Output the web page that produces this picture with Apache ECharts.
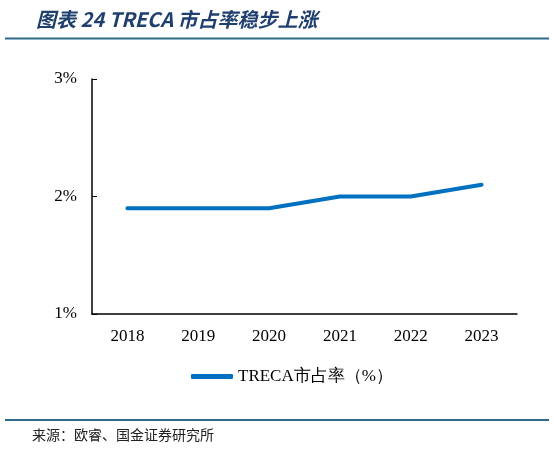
<!DOCTYPE html>
<html>
<head>
<meta charset="utf-8">
<script src="https://cdn.jsdelivr.net/npm/echarts@6/dist/echarts.min.js"></script>
<style>
  html, body { margin: 0; padding: 0; background: #fff; }
  #chart { width: 554px; height: 451px; }
</style>
</head>
<body>
<div id="chart"></div>
<script>
var years = ['2018', '2019', '2020', '2021', '2022', '2023'];
var shareValues = [1.9, 1.9, 1.9, 2.0, 2.0, 2.1];
var seriesName = 'TRECA市占率（%）';
var titleText = '图表 24 TRECA 市占率稳步上涨';
var sourceText = '来源：欧睿、国金证券研究所';

var serif = '"Liberation Serif", "Times New Roman", serif';
var cjk = '"Noto Sans CJK SC", sans-serif';

var myChart = echarts.init(document.getElementById('chart'));

myChart.setOption({
    animation: false,
    title: {
        text: titleText,
        left: 31,
        top: 4,
        textStyle: {
            color: '#1F3F6E',
            fontSize: 20,
            fontWeight: 'bold',
            fontStyle: 'italic',
            fontFamily: cjk
        }
    },
    graphic: [
        {
            type: 'line',
            shape: { x1: 5, y1: 38.5, x2: 549, y2: 38.5 },
            style: { stroke: '#2E6A8A', lineWidth: 2 }
        },
        {
            type: 'line',
            shape: { x1: 5, y1: 420, x2: 549, y2: 420 },
            style: { stroke: '#2E6A8A', lineWidth: 2 }
        },
        {
            type: 'text',
            left: 32,
            top: 428,
            style: {
                text: sourceText,
                fill: '#222',
                font: '14px ' + cjk
            }
        }
    ],
    legend: {
        data: [seriesName],
        left: 186,
        top: 363,
        itemWidth: 42,
        itemHeight: 5,
        icon: 'roundRect',
        itemGap: 4,
        textStyle: {
            color: '#000',
            fontSize: 17,
            fontFamily: serif
        }
    },
    grid: {
        left: 92,
        right: 37,
        top: 79,
        bottom: 137
    },
    xAxis: {
        type: 'category',
        data: years,
        boundaryGap: true,
        axisLine: { lineStyle: { color: '#000', width: 1.5 } },
        axisTick: { inside: true, length: 5, lineStyle: { color: '#000' } },
        axisLabel: {
            color: '#000',
            fontSize: 17,
            fontFamily: serif,
            margin: 14
        }
    },
    yAxis: {
        type: 'value',
        min: 1,
        max: 3,
        interval: 1,
        splitLine: { show: false },
        axisLine: { show: true, lineStyle: { color: '#000', width: 1.5 } },
        axisTick: { show: true, inside: true, length: 5, lineStyle: { color: '#000' } },
        axisLabel: {
            color: '#000',
            fontSize: 17,
            fontFamily: serif,
            margin: 15,
            formatter: function (v) { return v + '%'; }
        }
    },
    series: [
        {
            name: seriesName,
            type: 'line',
            data: shareValues,
            symbol: 'none',
            lineStyle: { color: '#0070C0', width: 4, cap: 'round' },
            itemStyle: { color: '#0070C0' }
        }
    ]
});
</script>
</body>
</html>
